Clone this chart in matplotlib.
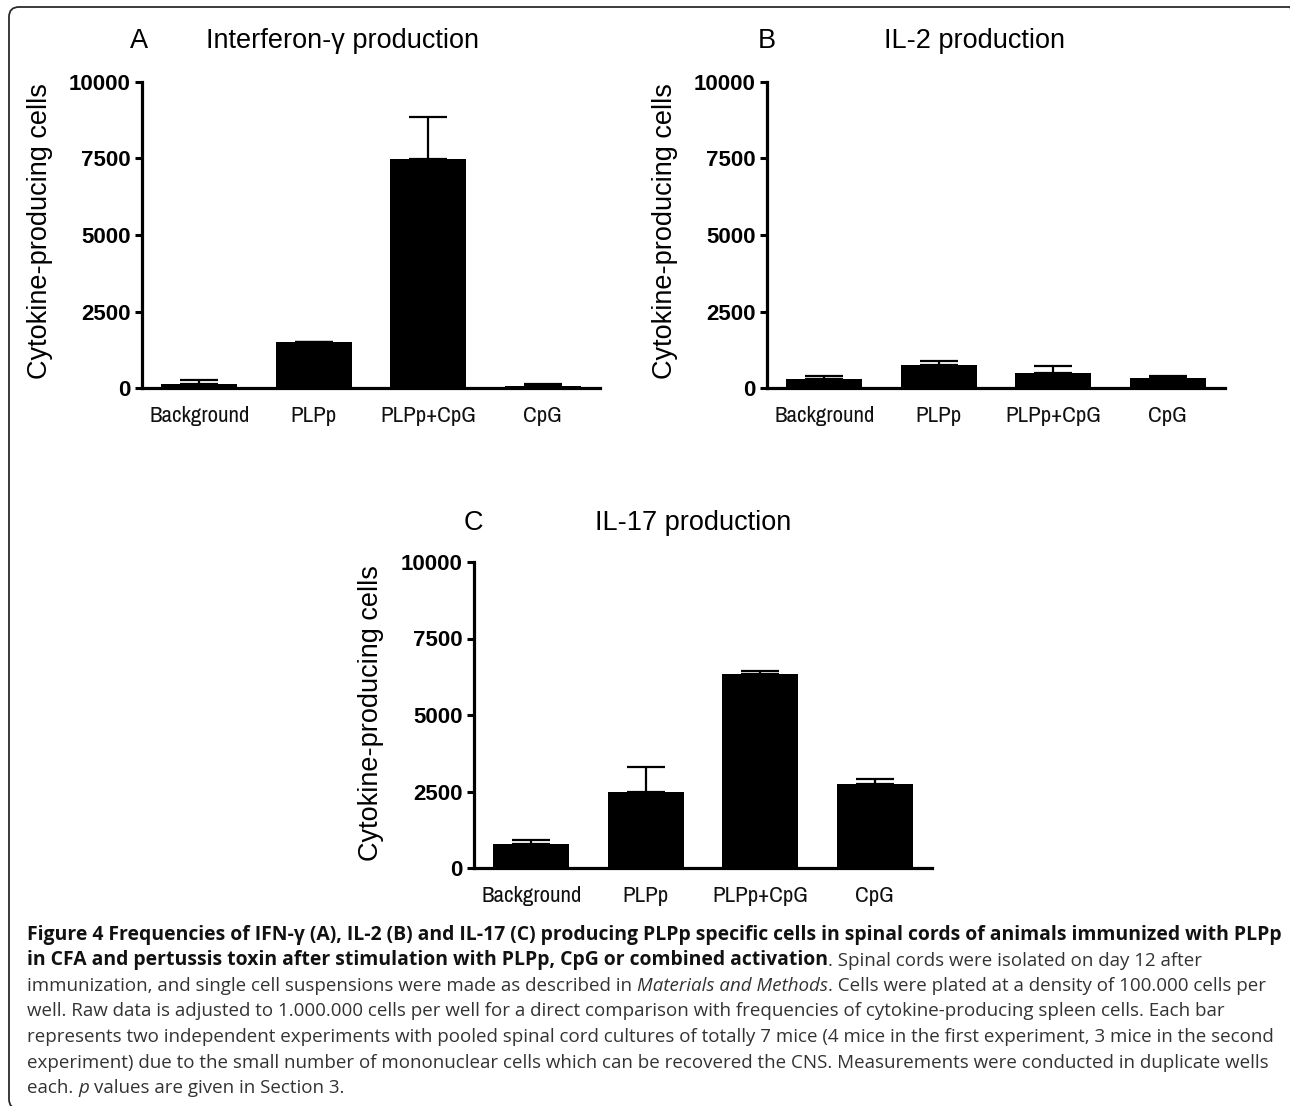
import matplotlib
matplotlib.use('Agg')
import matplotlib.pyplot as plt
from matplotlib.patches import FancyBboxPatch
from matplotlib.transforms import IdentityTransform
import numpy as np

# ---------------- data ----------------
categories = ['Background', 'PLPp', 'PLPp+CpG', 'CpG']
ifng_mean = [140, 1500, 7470, 80]
ifng_err = [130, 0, 1390, 50]
il2_mean = [300, 740, 490, 340]
il2_err = [80, 150, 240, 40]
il17_mean = [795, 2480, 6340, 2730]
il17_err = [130, 820, 90, 180]
yticks = [0, 2500, 5000, 7500, 10000]
ylabel = 'Cytokine-producing cells'

W, H = 1290, 1106
fig = plt.figure(figsize=(W / 100, H / 100), dpi=100)

NARROW_FONT = ['Liberation Sans Narrow', 'Archivo Narrow', 'Liberation Sans', 'DejaVu Sans']
TICK_FONT = ['Liberation Sans', 'DejaVu Sans']


def rect(l, r, top, bottom):
    return [l / W, 1 - bottom / H, (r - l) / W, (bottom - top) / H]


def panel(rc, means, errs, letter, title, letter_x, title_x, base_y, ylab_x, ylab_y):
    ax = fig.add_axes(rc)
    x = np.arange(len(categories))
    ax.bar(x, means, width=0.665, color='black', zorder=2)
    ax.errorbar(x, means, yerr=[np.zeros(len(errs)), errs], fmt='none',
                ecolor='black', elinewidth=1.6, capsize=13.5, capthick=1.6,
                zorder=3, clip_on=False)
    ax.set_xlim(-0.5, 3.5)
    ax.set_ylim(0, 10000)
    ax.set_yticks(yticks)
    ax.set_yticklabels([str(v) for v in yticks], fontweight='bold',
                       fontsize=16, family=TICK_FONT)
    ax.set_xticks(x)
    ax.set_xticklabels(categories, fontsize=16.5, family=NARROW_FONT, color='#111111')
    ax.tick_params(axis='y', length=5, width=2.2, pad=3)
    ax.tick_params(axis='x', length=0, pad=13)
    for s in ['top', 'right']:
        ax.spines[s].set_visible(False)
    for s in ['left', 'bottom']:
        ax.spines[s].set_linewidth(2.3)
    fig.text(letter_x / W, 1 - base_y / H, letter, ha='center', va='baseline',
             fontsize=19.5, family=TICK_FONT)
    fig.text(title_x / W, 1 - base_y / H, title, ha='center', va='baseline',
             fontsize=19.5, family=TICK_FONT)
    fig.text(ylab_x / W, 1 - ylab_y / H, ylabel, rotation=90, ha='center',
             va='center', fontsize=19.5, family=TICK_FONT)
    return ax


panel(rect(142, 600, 82, 388), ifng_mean, ifng_err, 'A', 'Interferon-\u03b3 production',
      139, 342, 48, 40, 231)
panel(rect(767, 1225, 82, 388), il2_mean, il2_err, 'B', 'IL-2 production',
      767, 974, 48, 665, 231)
panel(rect(474, 932, 562, 868), il17_mean, il17_err, 'C', 'IL-17 production',
      473, 693, 530, 371, 713)

# ---------------- frame ----------------
frame = FancyBboxPatch((9, -3), 1291, 1099 + 3, boxstyle='round,pad=0,rounding_size=10',
                       transform=IdentityTransform(), fill=False,
                       edgecolor='#2b2b2b', linewidth=1.3)
fig.patches.append(frame)

# ---------------- caption ----------------
CAP_FONT = ['Open Sans', 'DejaVu Sans']
renderer = fig.canvas.get_renderer()


def measure(s, fs, weight='normal', style='normal'):
    t = fig.text(0, 0, s, fontsize=fs, fontweight=weight, fontstyle=style, family=CAP_FONT)
    w = t.get_window_extent(renderer).width
    t.remove()
    return w


line1 = ('Figure 4 Frequencies of IFN-\u03b3 (A), IL-2 (B) and IL-17 (C) producing PLPp '
         'specific cells in spinal cords of animals immunized with PLPp')
line5 = ('represents two independent experiments with pooled spinal cord cultures of totally 7 mice '
         '(4 mice in the first experiment, 3 mice in the second')
bold_fs = 11 * 1256 / measure(line1, 11, 'bold')
reg_fs = 11 * 1250 / measure(line5, 11)

caption = [
    [(line1, 'bold', 'normal')],
    [('in CFA and pertussis toxin after stimulation with PLPp, CpG or combined activation', 'bold', 'normal'),
     ('. Spinal cords were isolated on day 12 after', 'normal', 'normal')],
    [('immunization, and single cell suspensions were made as described in ', 'normal', 'normal'),
     ('Materials and Methods', 'normal', 'italic'),
     ('. Cells were plated at a density of 100.000 cells per', 'normal', 'normal')],
    [('well. Raw data is adjusted to 1.000.000 cells per well for a direct comparison with '
      'frequencies of cytokine-producing spleen cells. Each bar', 'normal', 'normal')],
    [(line5, 'normal', 'normal')],
    [('experiment) due to the small number of mononuclear cells which can be recovered the CNS. '
      'Measurements were conducted in duplicate wells', 'normal', 'normal')],
    [('each. ', 'normal', 'normal'), ('p', 'normal', 'italic'),
     (' values are given in Section 3.', 'normal', 'normal')],
]

space_w = {}
x0 = 27
base0 = 940
step = 25.5
for i, pieces in enumerate(caption):
    xc = x0
    yb = base0 + i * step
    for s, weight, style in pieces:
        fs = bold_fs if weight == 'bold' else reg_fs
        col = '#111111' if weight == 'bold' else '#333333'
        key = (weight, style)
        if key not in space_w:
            space_w[key] = measure('x x', fs, weight, style) - measure('xx', fs, weight, style)
        lead = len(s) - len(s.lstrip(' '))
        trail = len(s) - len(s.rstrip(' '))
        core = s.strip(' ')
        xc += lead * space_w[key]
        fig.text(xc / W, 1 - yb / H, core, fontsize=fs, fontweight=weight,
                 fontstyle=style, family=CAP_FONT, color=col,
                 ha='left', va='baseline')
        xc += measure(core, fs, weight, style) + trail * space_w[key]

fig.savefig('out.png', dpi=100)
